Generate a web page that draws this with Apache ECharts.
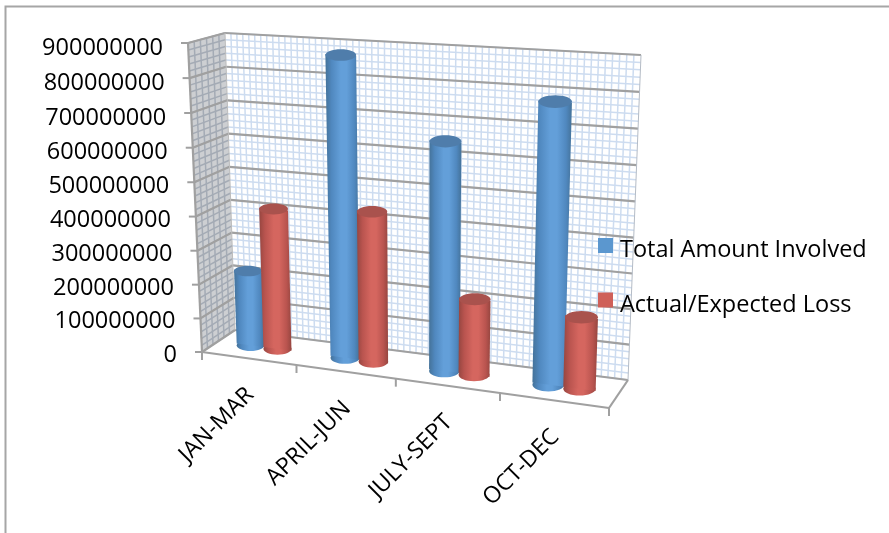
<!DOCTYPE html>
<html>
<head>
<meta charset="utf-8">
<style>html,body{margin:0;padding:0;background:#fff}#chart{width:889px;height:533px}</style>
<script src="https://cdn.jsdelivr.net/npm/echarts@6/dist/echarts.min.js"></script>
</head>
<body>
<div id="chart"></div>
<script>
// Quarterly totals, in currency units
const categories = ['JAN-MAR', 'APRIL-JUN', 'JULY-SEPT', 'OCT-DEC'];
const totalAmountInvolved = [223000000, 874000000, 652000000, 783000000];
const actualExpectedLoss = [415000000, 435000000, 216000000, 200000000];
const valueTicks = [0, 100000000, 200000000, 300000000, 400000000, 500000000, 600000000, 700000000, 800000000, 900000000];

const FONT = '"Open Sans", sans-serif';
const GRID = { left: 200, top: 50, width: 400, height: 300 };

// Corners of the 3D box on screen: b/t = bottom/top, f/k = front/back, l/r = left/right
const BOX = {
  bfl: [202, 352], bfr: [609, 408], bkl: [235, 330], bkr: [628, 380],
  tfl: [188, 43], tfr: [620, 70], tkl: [225, 33], tkr: [641, 55]
};
const mix = (a, b, f) => [a[0] + (b[0] - a[0]) * f, a[1] + (b[1] - a[1]) * f];

// u: 0..1 along the categories, t: 0..1 up the value axis, d: 0 front .. 1 back.
// The small quadratic terms stand in for perspective foreshortening.
function project(u, t, d) {
  const a = u - 0.095 * u * (1 - u);
  const v = t - 0.025 * t * (1 - t);
  const bottom = mix(mix(BOX.bfl, BOX.bfr, a), mix(BOX.bkl, BOX.bkr, a), d);
  const top = mix(mix(BOX.tfl, BOX.tfr, a), mix(BOX.tkl, BOX.tkr, a), d);
  return mix(bottom, top, v);
}
const normalize = (pt) => [(pt[0] - GRID.left) / GRID.width, (GRID.top + GRID.height - pt[1]) / GRID.height];

const line = (a, b, color, width) => ({
  type: 'line', silent: true,
  shape: { x1: a[0], y1: a[1], x2: b[0], y2: b[1] },
  style: { stroke: color, lineWidth: width }
});
const poly = (points, fill) => ({ type: 'polygon', silent: true, shape: { points }, style: { fill } });

// Walls, floor edges, gridlines, tick marks and axis text
function renderFrame(params, api) {
  const kids = [];
  const step = valueTicks[1] - valueTicks[0];
  const top = valueTicks[valueTicks.length - 1];
  const tOf = (value) => normalize(api.coord([0, value]))[1];

  kids.push(poly([project(0, 0, 0), project(0, 0, 1), project(0, 1, 1), project(0, 1, 0)], '#cdcfd2'));

  // minor mesh
  const meshBack = '#cddcf0', meshSide = '#a4abb5';
  for (let value = 0; value <= top; value += step / 5) {
    const t = tOf(value);
    kids.push(line(project(0, t, 1), project(1, t, 1), meshBack, 1.5));
    kids.push(line(project(0, t, 0), project(0, t, 1), meshSide, 1.5));
  }
  const meshColumns = categories.length * 16;
  for (let i = 1; i < meshColumns; i++) {
    kids.push(line(project(i / meshColumns, 0, 1), project(i / meshColumns, 1, 1), meshBack, 1.5));
  }
  for (let i = 1; i < 6; i++) {
    kids.push(line(project(0, 0, i / 6), project(0, 1, i / 6), meshSide, 1.5));
  }

  // major gridlines and ticks
  const major = '#a0a0a0';
  valueTicks.forEach((value) => {
    const t = tOf(value);
    const front = project(0, t, 0);
    kids.push(line(project(0, t, 1), project(1, t, 1), major, 2.2));
    kids.push(line(front, project(0, t, 1), major, 2.2));
    kids.push(line([front[0] - 7, front[1]], front, major, 2));
    kids.push({
      type: 'text', silent: true,
      style: {
        text: String(value), x: front[0] - 25, y: front[1] + 3 + 2.5 * t,
        align: 'right', verticalAlign: 'middle',
        font: '23.5px ' + FONT, fill: '#000'
      }
    });
  });
  kids.push(line(project(0, 0, 0), project(0, 1, 0), major, 2.2));
  kids.push(line(project(0, 0, 1), project(0, 1, 1), '#bdbdbd', 1));
  kids.push(line(project(1, 0, 1), project(1, 1, 1), '#b5bcc6', 1));
  kids.push(line(project(0, 0, 0), project(1, 0, 0), major, 2.2));
  kids.push(line(project(1, 0, 0), project(1, 0, 1), major, 2.2));

  // category ticks and rotated labels
  categories.forEach((name, i) => {
    const c = normalize(api.coord([i, 0]));
    const half = api.size([1, 0])[0] / GRID.width / 2;
    const tick = project(c[0] - half, 0, 0);
    kids.push(line(tick, [tick[0], tick[1] + 8], major, 2));
    const anchor = project(c[0], 0, 0);
    kids.push({
      type: 'text', silent: true,
      x: anchor[0] + 1.5, y: anchor[1] + 33,
      rotation: Math.PI / 4,
      style: {
        text: name, x: 0, y: 0,
        align: 'right', verticalAlign: 'middle',
        font: '23px ' + FONT, fill: '#000'
      }
    });
  });
  const lastTick = project(1, 0, 0);
  kids.push(line(lastTick, [lastTick[0], lastTick[1] + 8], major, 2));
  return { type: 'group', children: kids };
}

// One cylinder per data item, standing on the middle of the floor
function cylinderRenderer(offset, edge, mid, centre, cap) {
  return function (params, api) {
    const value = api.value(1);
    const base = normalize(api.coord([api.value(0), 0]));
    const head = normalize(api.coord([api.value(0), value]));
    const band = api.size([1, 0])[0] / GRID.width;
    const radius = band * 0.15;
    const u = base[0] + offset * band;
    const depth = 0.5;
    const bl = project(u - radius, 0, depth), br = project(u + radius, 0, depth);
    const tl = project(u - radius, head[1], depth), tr = project(u + radius, head[1], depth);
    const fill = () => new echarts.graphic.LinearGradient(0, 0, 1, 0, [
      { offset: 0, color: edge }, { offset: 0.18, color: mid }, { offset: 0.45, color: centre },
      { offset: 0.62, color: centre }, { offset: 0.85, color: mid }, { offset: 1, color: edge }
    ]);
    const ellipse = (a, b, ratio, color) => ({
      type: 'ellipse', silent: true,
      shape: {
        cx: (a[0] + b[0]) / 2, cy: (a[1] + b[1]) / 2,
        rx: (b[0] - a[0]) / 2, ry: (b[0] - a[0]) * ratio
      },
      style: { fill: color }
    });
    return {
      type: 'group',
      children: [
        ellipse(bl, br, 0.21, fill()),
        poly([tl, tr, br, bl], fill()),
        ellipse(tl, tr, 0.19, cap)
      ]
    };
  };
}

const BLUE = '#5b97cf', RED = '#cf6059';
const toItems = (values) => values.map((v, i) => [i, v]);

const chart = echarts.init(document.getElementById('chart'));
chart.setOption({
  animation: false,
  backgroundColor: '#fff',
  grid: GRID,
  xAxis: { type: 'category', data: categories, show: false },
  yAxis: { type: 'value', min: 0, max: 900000000, interval: 100000000, show: false },
  legend: {
    data: ['Total Amount Involved', 'Actual/Expected Loss'],
    orient: 'vertical', left: 598, top: 238, padding: 0,
    icon: 'rect', itemWidth: 15, itemHeight: 15, itemGap: 30,
    formatter: '{t|{name}}',
    textStyle: {
      color: '#000',
      rich: {
        t: {
          fontFamily: FONT, fontSize: 23.5, color: '#000',
          lineHeight: 34, verticalAlign: 'bottom', padding: [0, 0, 0, 2]
        }
      }
    },
    selectedMode: false
  },
  graphic: [
    {
      type: 'polyline', silent: true,
      shape: { points: [[5.5, 533], [5.5, 6.5], [889, 6.5]] },
      style: { stroke: '#a6a6a6', lineWidth: 2, fill: null }
    }
  ],
  series: [
    {
      type: 'custom', name: 'frame', renderItem: renderFrame, silent: true,
      data: [[0, 0]], encode: { x: 0, y: 1 }, z: 1
    },
    {
      type: 'custom', name: 'Total Amount Involved', itemStyle: { color: BLUE },
      renderItem: cylinderRenderer(-0.15, '#447299', '#5088bf', '#639fd9', '#4f7dab'),
      data: toItems(totalAmountInvolved), encode: { x: 0, y: 1 }, z: 2
    },
    {
      type: 'custom', name: 'Actual/Expected Loss', itemStyle: { color: RED },
      renderItem: cylinderRenderer(0.14, '#964640', '#b9544f', '#d5665f', '#a9524d'),
      data: toItems(actualExpectedLoss), encode: { x: 0, y: 1 }, z: 3
    }
  ]
});
</script>
</body>
</html>
